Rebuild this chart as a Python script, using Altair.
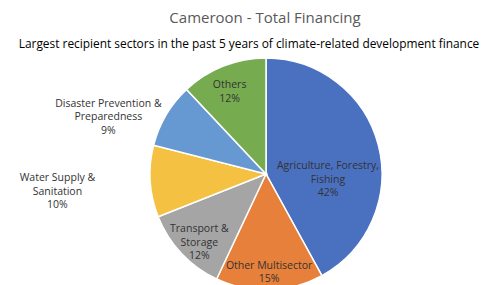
import altair as alt
import pandas as pd

title_text = "Cameroon - Total Financing"
subtitle_text = "Largest recipient sectors in the past 5 years of climate-related development finance"

sectors = [
    "Agriculture, Forestry, Fishing",
    "Other Multisector",
    "Transport & Storage",
    "Water Supply & Sanitation",
    "Disaster Prevention & Preparedness",
    "Others",
]
label_text = [
    "Agriculture, Forestry,\nFishing",
    "Other Multisector",
    "Transport &\nStorage",
    "Water Supply &\nSanitation",
    "Disaster Prevention &\nPreparedness",
    "Others",
]
shares = [42, 15, 12, 10, 9, 12]
colors = ["#4A70C0", "#E7803A", "#A5A5A5", "#F5C142", "#6699D2", "#76AB50"]

df = pd.DataFrame({
    "sector": sectors,
    "share": shares,
    "order": list(range(len(sectors))),
    "label": [f"{t}\n{s}%" for t, s in zip(label_text, shares)],
})

CX, CY, R = 258, 166, 116
FONT = "Open Sans"
theta_scale = alt.Scale(domain=[0, 100])

pie = alt.Chart(df).mark_arc(outerRadius=R, stroke="white", strokeWidth=1.5).encode(
    theta=alt.Theta("share:Q", stack=True, scale=theta_scale),
    order=alt.Order("order:Q"),
    color=alt.Color("sector:N", scale=alt.Scale(domain=sectors, range=colors), legend=None),
    x=alt.value(CX),
    y=alt.value(CY),
)

label_base = alt.Chart(df).transform_window(
    cum="sum(share)", sort=[alt.SortField("order")], frame=[None, 0]
).transform_calculate(mid="datum.cum - datum.share / 2")

def lab(name, radius, dx=0, dy=0):
    return label_base.transform_filter(alt.datum.sector == name).mark_text(
        radius=radius, dx=dx, dy=dy, font=FONT, fontSize=10.5, color="#333333",
        lineBreak="\n", lineHeight=13.5, align="center", baseline="middle",
    ).encode(
        theta=alt.Theta("mid:Q", stack=False, scale=theta_scale),
        text="label:N",
        x=alt.value(CX),
        y=alt.value(CY),
    )

labels = [
    lab(sectors[0], 64, 0, 8),
    lab(sectors[1], 99, 0, -7),
    lab(sectors[2], 97, 4, -11),
    lab(sectors[3], 209, 0, -9),
    lab(sectors[4], 175, -7, 19),
    lab(sectors[5], 88, -4, -7),
]

title = alt.Chart(pd.DataFrame({"t": [title_text]})).mark_text(
    font=FONT, fontSize=15, color="#595959", align="center", baseline="middle"
).encode(text="t:N", x=alt.value(257), y=alt.value(10))

subtitle = alt.Chart(pd.DataFrame({"t": [subtitle_text]})).mark_text(
    font=FONT, fontSize=11.9, color="#000000", align="center", baseline="middle"
).encode(text="t:N", x=alt.value(241), y=alt.value(36))

chart = alt.layer(pie, *labels, title, subtitle).properties(
    width=480, height=277, padding=0, autosize=alt.AutoSizeParams(type="none")
).configure_view(stroke=None)

chart.save("out.html", embed_options={"renderer": "svg", "actions": False})
